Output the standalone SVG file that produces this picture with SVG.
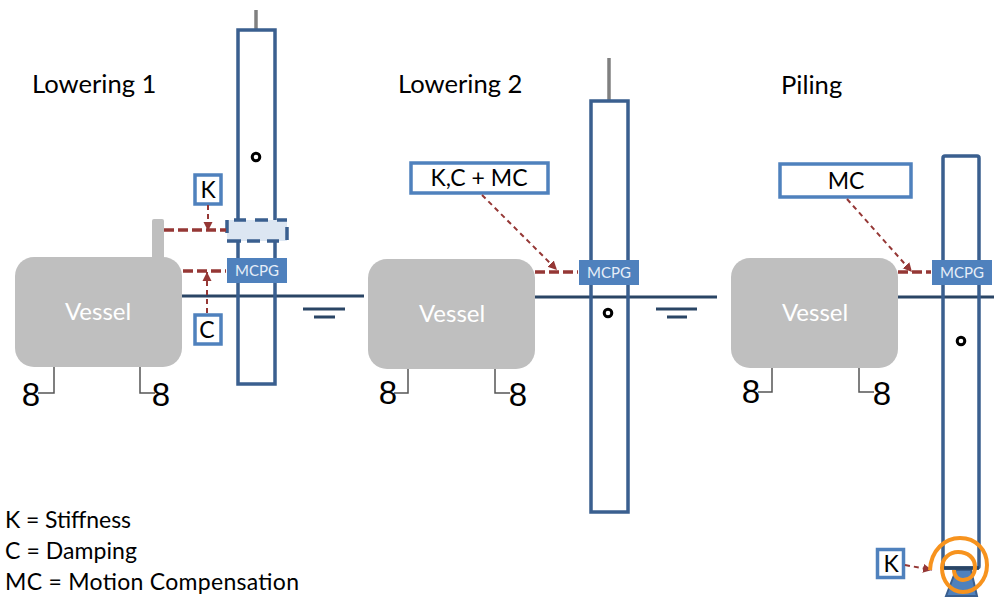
<svg xmlns="http://www.w3.org/2000/svg" width="994" height="597" viewBox="0 0 994 597">
<defs>
<marker id="ah" markerUnits="userSpaceOnUse" markerWidth="11" markerHeight="11" refX="9" refY="5" orient="auto"><path d="M0,0.5L9,5L0,9.5Z" fill="#953735"/></marker>
</defs>
<style>
text{font-family:Lato,"Liberation Sans",sans-serif}
.pile{fill:none;stroke:#3a5f8f;stroke-width:3.5}
.top{stroke:#808080;stroke-width:3.5;fill:none}
.sea{stroke:#2a4565;stroke-width:3;fill:none}
.v{fill:#bfbfbf}
.vt{fill:#fff;font-size:24px;text-anchor:middle}
.m{fill:#4f81bd}
.mt{fill:#e6eef8;font-size:15px;text-anchor:middle}
.box{fill:#fff;stroke:#4f81bd;stroke-width:3.5}
.bt{fill:#000;font-size:23px;text-anchor:middle}
.ttl{fill:#000;font-size:25.6px}
.leg{fill:#000;font-size:23px}
.e{fill:#000;font-size:33px;text-anchor:middle;font-family:"Liberation Sans",sans-serif}
.moor{fill:none;stroke:#555;stroke-width:1.5}
.thick{stroke:#953735;stroke-width:3.5;stroke-dasharray:10 4;fill:none}
.thin{stroke:#953735;stroke-width:2;stroke-dasharray:5 4;fill:none}
.dot{fill:#fff;stroke:#000;stroke-width:3}
.orange{fill:none;stroke:#f7931e;stroke-width:4}
.cdash{fill:none;stroke:#3a5f8f;stroke-width:3.5}
</style>
<g id="titles">
<text class="ttl" x="32" y="93">Lowering 1</text>
<text class="ttl" x="398" y="93">Lowering 2</text>
<text class="ttl" x="781" y="94">Piling</text>
</g>
<g id="legend">
<text class="leg" x="5" y="528" textLength="126">K = Stiffness</text>
<text class="leg" x="5" y="559" textLength="132">C = Damping</text>
<text class="leg" x="5" y="590" textLength="294">MC = Motion Compensation</text>
</g>
<g id="waterlines">
<path class="sea" d="M182 296H364M303 309H345M314 317H335"/>
<path class="sea" d="M535 297H717M656 309H697M667 317H687"/>
<path class="sea" d="M898 297H994"/>
</g>
<g id="pile-1">
<path class="top" d="M256 10V29"/>
<rect class="pile" x="238" y="30" width="37" height="354"/>
<circle class="dot" cx="256" cy="157" r="3.8"/>
</g>
<g id="pile-2">
<path class="top" d="M609 58V100"/>
<rect class="pile" x="591" y="101" width="37" height="411"/>
<circle class="dot" cx="608" cy="313" r="3.8"/>
</g>
<g id="pile-3">
<rect class="pile" x="943" y="156" width="36" height="412" rx="2"/>
<circle class="dot" cx="961" cy="341" r="3.8"/>
</g>
<g id="vessel-1">
<rect class="v" x="152" y="219" width="12" height="50" rx="2"/>
<rect class="v" x="15" y="257" width="167" height="110" rx="19"/>
<text class="vt" x="98" y="320">Vessel</text>
<path class="moor" d="M54 367V393H38M140 367V393H155"/>
<text class="e" x="31" y="406">8</text>
<text class="e" x="161" y="406">8</text>
</g>
<g id="vessel-2">
<rect class="v" x="368" y="259" width="167" height="110" rx="19"/>
<text class="vt" x="452" y="322">Vessel</text>
<path class="moor" d="M408 369V393H394M495 369V393H510"/>
<text class="e" x="388" y="404">8</text>
<text class="e" x="518" y="406">8</text>
</g>
<g id="vessel-3">
<rect class="v" x="731" y="258" width="167" height="110" rx="19"/>
<text class="vt" x="815" y="321">Vessel</text>
<path class="moor" d="M772 368V392H758M859 368V392H874"/>
<text class="e" x="751" y="403">8</text>
<text class="e" x="882" y="405">8</text>
</g>
<g id="collar">
<rect x="227" y="220" width="60" height="21" fill="#dce6f2"/>
<path class="cdash" d="M234 220H246M255 220H268M277 220H287M227 241H241M247 241H260M267 241H279M227 220V233M287 227V240"/>
</g>
<g id="mcpg-1"><rect class="m" x="227" y="258" width="60" height="25"/><text class="mt" x="257" y="276">MCPG</text></g>
<g id="mcpg-2"><rect class="m" x="579" y="260" width="60" height="25"/><text class="mt" x="609" y="278">MCPG</text></g>
<g id="mcpg-3"><rect class="m" x="932" y="260" width="60" height="25"/><text class="mt" x="962" y="278">MCPG</text></g>
<g id="k-box-1"><rect class="box" x="195" y="175" width="26" height="29"/><text class="bt" x="208" y="198">K</text></g>
<g id="c-box"><rect class="box" x="195" y="315" width="26" height="29"/><text class="bt" x="207" y="338">C</text></g>
<g id="kcmc-box"><rect class="box" x="411" y="163" width="137" height="30"/><text class="bt" x="479" y="186">K,C + MC</text></g>
<g id="mc-box"><rect class="box" x="780" y="164" width="131" height="33"/><text class="bt" x="846" y="189">MC</text></g>
<g id="k-box-2"><rect class="box" x="877.500" y="549.500" width="26" height="28"/><text class="bt" x="891" y="572">K</text></g>
<g id="support">
<path d="M946 596L956 570H971L977 596Z" fill="#4f81bd" stroke="#3a5f8f" stroke-width="2"/>
<path d="M943 568H979" stroke="#2a4565" stroke-width="3.5"/>
</g>
<g id="connectors">
<path class="thick" d="M164 230H226"/>
<path class="thick" d="M183 271H226"/>
<path class="thick" d="M535 272H578"/>
<path class="thick" d="M898 272H931"/>
<path class="thin" d="M208 205V231" marker-end="url(#ah)"/>
<path class="thin" d="M207 313V272" marker-end="url(#ah)"/>
<path class="thin" d="M482 195L557 270" marker-end="url(#ah)"/>
<path class="thin" d="M847 199L912 272" marker-end="url(#ah)"/>
<path class="thin" d="M905 565L932 570" marker-end="url(#ah)"/>
</g>
<g id="rotation">
<path class="orange" d="M930 570C931 550 945 538 960 538C976 538 987 550 987 565C987 580 976 592 963 592C950 592 942 580 942 568C942 558 950 552 958 552C968 552 975 558 975 567C975 575 970 580 963 580C958 580 954 576 954 570"/>
</g>
</svg>
